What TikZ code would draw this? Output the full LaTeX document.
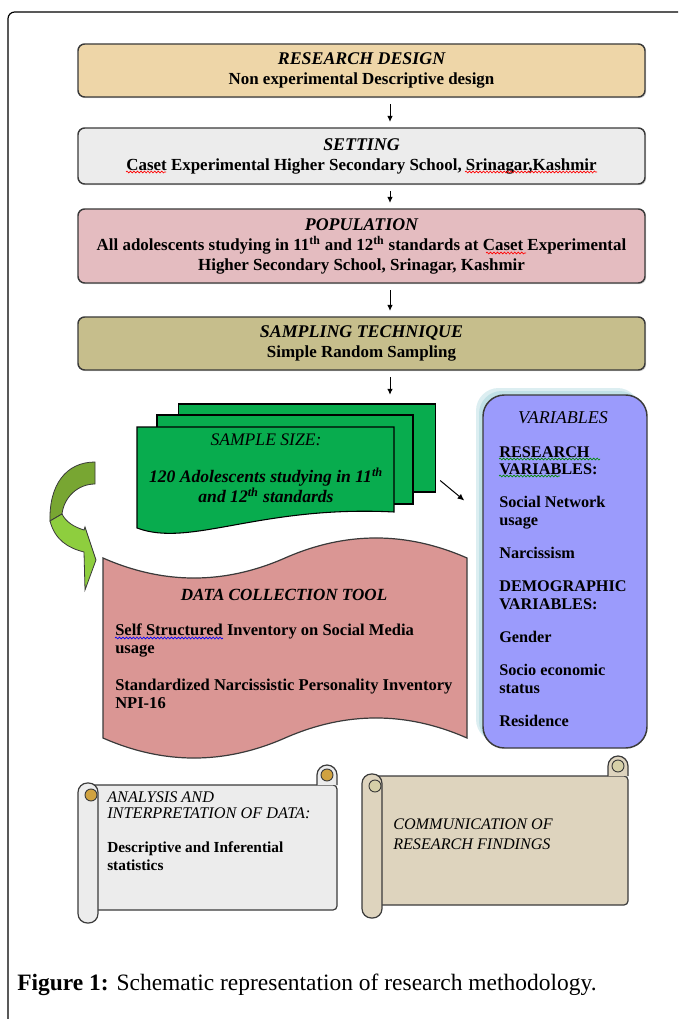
\documentclass[tikz,border=0pt]{standalone}
\usepackage{fontspec}
\setmainfont{Liberation Serif}
\usepackage{xcolor}
\usepackage{tikz}
\usetikzlibrary{arrows.meta,positioning,calc,shadows,decorations.pathmorphing}
\definecolor{designtan}{RGB}{238, 214, 168}
\definecolor{settinggray}{RGB}{236, 236, 236}
\definecolor{poppink}{RGB}{228, 188, 192}
\definecolor{samplekhaki}{RGB}{198, 190, 140}
\definecolor{samplegreen}{RGB}{8, 172, 78}
\definecolor{toolpink}{RGB}{218, 150, 148}
\definecolor{varviolet}{RGB}{155, 155, 252}
\definecolor{glowteal}{RGB}{178, 218, 224}
\definecolor{scrollgray}{RGB}{236, 236, 236}
\definecolor{scrollbeige}{RGB}{222, 212, 190}
\definecolor{curlgold}{RGB}{208, 162, 64}
\definecolor{curlkhaki}{RGB}{214, 208, 168}
\definecolor{arrowdark}{RGB}{120, 166, 50}
\definecolor{arrowlight}{RGB}{142, 206, 62}
\definecolor{edgegray}{RGB}{58, 58, 58}

\newcommand{\headfont}{\fontsize{13.4}{15}\selectfont\itshape}
\newcommand{\bodyfont}{\fontsize{12.7}{15}\selectfont\bfseries}

% scroll: x0, y0, x1, y1, body colour, curl colour
\newcommand{\hscroll}[6]{%
  \filldraw[fill=#5, draw=edgegray, line width=0.9pt, rounded corners=3pt] (#1+10,#2+20) rectangle (#3,#4-13);
  \filldraw[fill=#5, draw=edgegray, line width=0.9pt] (#3-20,#2+20) -- (#3-20,#2+10) arc[start angle=180, end angle=360, radius=10] -- (#3,#2+20);
  \filldraw[fill=#6, draw=edgegray, line width=0.7pt] (#3-10,#2+10) circle[radius=6];
  \filldraw[fill=#5, draw=edgegray, line width=0.9pt, rounded corners=7pt] (#1,#2+18) rectangle (#1+20,#4);
  \filldraw[fill=#6, draw=edgegray, line width=0.7pt] (#1+13,#2+30) circle[radius=6];
}

\begin{document}
\begin{tikzpicture}[x=0.75pt, y=-0.75pt,
  stage/.style={rectangle, draw=edgegray, line width=1.1pt, rounded corners=5pt, minimum width=425.25pt, align=center, inner sep=2pt, font=\bodyfont, drop shadow={shadow xshift=0.9pt, shadow yshift=-0.9pt, opacity=0.3}},
  flowarrow/.style={-{Latex[length=4.5pt,width=4.2pt]}, line width=0.75pt, shorten <=5pt, shorten >=4pt},
  sheet/.style={rectangle, draw=black, line width=0.8pt, fill=samplegreen, minimum width=193pt, minimum height=66pt},
  itemtxt/.style={inner sep=0pt, anchor=north west, align=left},
  spellmark/.style={line width=0.5pt, decorate, decoration={snake, amplitude=0.7pt, segment length=2.6pt}}
]
\useasboundingbox (0,0) rectangle (678,1019);
\clip (0,0) rectangle (678,1019);

% Outer frame
\draw[line width=0.9pt, rounded corners=5pt] (8,1040) -- (8,12) -- (700,12);

% Main chain of stages
\node[stage, fill=designtan, minimum height=39.75pt] (rd) at (361.5,70.5) {{\headfont RESEARCH DESIGN}\\Non experimental Descriptive design};
\node[stage, fill=settinggray, minimum height=42pt] (st) at (361.5,156) {{\headfont SETTING}\\Caset Experimental Higher Secondary School, Srinagar,Kashmir};
\node[stage, fill=poppink, minimum height=55.5pt] (pop) at (361.5,246) {{\headfont POPULATION}\\All adolescents studying in 11\textsuperscript{th} and 12\textsuperscript{th} standards at Caset Experimental\\Higher Secondary School, Srinagar, Kashmir};
\node[stage, fill=samplekhaki, minimum height=39.75pt] (smp) at (361.5,343.5) {{\headfont SAMPLING TECHNIQUE}\\Simple Random Sampling};

% spelling marks
\draw[spellmark, red] (126,172) -- (166,172);
\draw[spellmark, red] (465,172) -- (597,172);
\draw[spellmark, red] (486,253) -- (526,253);

\coordinate (ax) at (390,0);
\draw[flowarrow] (rd.south -| ax) -- (st.north -| ax);
\draw[flowarrow] (st.south -| ax) -- (pop.north -| ax);
\draw[flowarrow] (pop.south -| ax) -- (smp.north -| ax);

% Sample size sheets
\node[sheet] (sback) at (307,448) {};
\node[sheet, minimum width=192pt, minimum height=66.75pt] (smid) at (285,459.5) {};
\filldraw[fill=samplegreen, draw=black, line width=0.8pt] (137,427) -- (394,427) -- (394,512) .. controls (260,505) and (190,548) .. (137,528) -- cycle;
\node[align=center, font=\fontsize{13.2}{15}\selectfont\bfseries\itshape] (ssize) at (266,468) {{\mdseries SAMPLE SIZE:}\\[12.75pt]120 Adolescents studying in 11\textsuperscript{th}\\and 12\textsuperscript{th} standards};
\draw[flowarrow, shorten <=5pt, shorten >=6.5pt] (smp.south -| ax) -- (sback.north -| ax);

% Variables
\fill[glowteal!45, rounded corners=17pt] (476,388) rectangle (640,742);
\fill[glowteal!80, rounded corners=17pt] (479,391) rectangle (642,744);
\node[draw=edgegray, line width=1.1pt, fill=varviolet, rounded corners=16pt, minimum width=123pt, minimum height=264.75pt] (var) at (565,571.5) {};
\node[font=\fontsize{13.5}{15}\selectfont\itshape] (varhead) at (563,418) {VARIABLES};
\node[itemtxt, font=\fontsize{12.2}{13.3}\selectfont\bfseries] (varlist) at (499,446) {RESEARCH\\VARIABLES:\\[11.5pt]Social Network\\usage\\[11.5pt]Narcissism\\[11.5pt]DEMOGRAPHIC\\VARIABLES:\\[11.5pt]Gender\\[11.5pt]Socio economic\\status\\[11.5pt]Residence};
\draw[spellmark, green!55!black] (499,459) -- (600,459);
\draw[spellmark, green!55!black] (499,476) -- (560,476);
\draw[-{Latex[length=5pt,width=4.5pt]}, line width=0.75pt] ([shift={(4,-12)}]sback.south east) -- ([shift={(-18,-71)}]var.west);

% Curved arrow into the data collection tool
\filldraw[fill=arrowdark, draw=edgegray, line width=0.6pt] (95,462) .. controls (66,462) and (49,485) .. (50,521) -- (62,514) .. controls (64,497) and (78,484) .. (95,484) -- cycle;
\filldraw[fill=arrowlight, draw=edgegray, line width=0.6pt] (50,521) .. controls (55,540) and (68,548) .. (84,552) -- (85,590) -- (96,560) -- (85,527) -- (84,530) .. controls (74,527) and (66,522) .. (62,514) -- cycle;

% Data collection tool
\filldraw[fill=toolpink, draw=edgegray, line width=0.9pt] (103,558) .. controls (163.7,584.7) and (224.3,584.7) .. (285,558) .. controls (345.7,531.3) and (406.3,531.3) .. (467,558) -- (467,738) .. controls (406.3,711.3) and (345.7,711.3) .. (285,738) .. controls (224.3,764.7) and (163.7,764.7) .. (103,738) -- cycle;
\node[font=\fontsize{12.8}{15}\selectfont\bfseries\itshape] (dcthead) at (284,595) {DATA COLLECTION TOOL};
\node[itemtxt, font=\fontsize{12.4}{13.5}\selectfont\bfseries] (dctbody) at (115,624) {Self Structured Inventory on Social Media\\usage\\[14pt]Standardized Narcissistic Personality Inventory\\NPI-16};
\draw[spellmark, blue] (115,638) -- (223,638);

% Scrolls
\hscroll{78}{765}{337}{923}{scrollgray}{curlgold}
\node[itemtxt, font=\fontsize{12.2}{12}\selectfont\itshape] (anlhead) at (107,791) {ANALYSIS AND\\INTERPRETATION OF DATA:};
\node[itemtxt, font=\fontsize{11.5}{13.5}\selectfont\bfseries] (anlbody) at (107,841) {Descriptive and Inferential\\statistics};

\hscroll{362}{756}{628}{918}{scrollbeige}{curlkhaki}
\node[itemtxt, font=\fontsize{12.1}{15}\selectfont\itshape] (comm) at (393,819) {COMMUNICATION OF\\RESEARCH FINDINGS};

% Caption
\node[anchor=west, inner sep=0pt, font=\fontsize{17.6}{20}\selectfont] (cap) at (17,985) {\textbf{Figure 1:} Schematic representation of research methodology.};

\end{tikzpicture}
\end{document}
